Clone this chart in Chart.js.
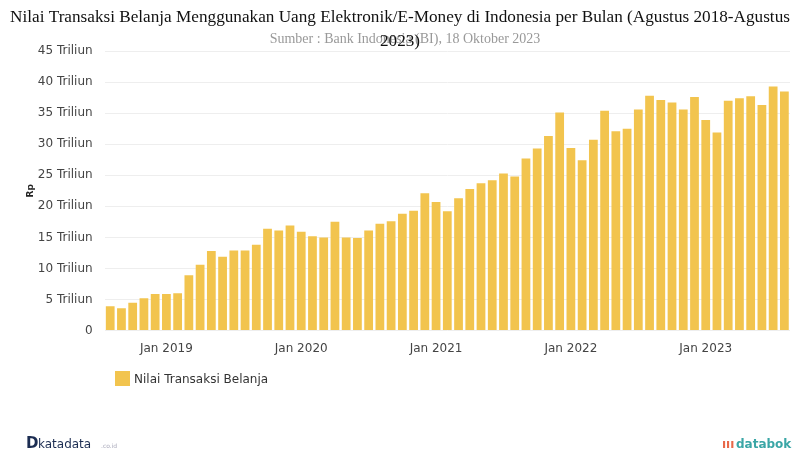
<!DOCTYPE html>
<html>
<head>
<meta charset="utf-8">
<script src="https://cdn.jsdelivr.net/npm/chart.js@4"></script>
<style>
  html, body { margin: 0; padding: 0; background: #fff; }
  #wrap { width: 792px; height: 450px; }
</style>
</head>
<body>
<div id="wrap"><canvas id="chart" width="792" height="450"></canvas></div>
<script>
// Agustus 2018 - Agustus 2023, nilai dalam triliun rupiah
const months = [
  "2018-08", "2018-09", "2018-10", "2018-11", "2018-12",
  "2019-01", "2019-02", "2019-03", "2019-04", "2019-05", "2019-06",
  "2019-07", "2019-08", "2019-09", "2019-10", "2019-11", "2019-12",
  "2020-01", "2020-02", "2020-03", "2020-04", "2020-05", "2020-06",
  "2020-07", "2020-08", "2020-09", "2020-10", "2020-11", "2020-12",
  "2021-01", "2021-02", "2021-03", "2021-04", "2021-05", "2021-06",
  "2021-07", "2021-08", "2021-09", "2021-10", "2021-11", "2021-12",
  "2022-01", "2022-02", "2022-03", "2022-04", "2022-05", "2022-06",
  "2022-07", "2022-08", "2022-09", "2022-10", "2022-11", "2022-12",
  "2023-01", "2023-02", "2023-03", "2023-04", "2023-05", "2023-06",
  "2023-07", "2023-08"
];
const nilaiBelanja = [
  3.9, 3.6, 4.5, 5.2, 5.9,
  5.9, 6.0, 8.9, 10.6, 12.8, 11.9,
  12.9, 12.9, 13.8, 16.4, 16.1, 16.9,
  15.9, 15.2, 15.0, 17.5, 15.0, 14.9,
  16.1, 17.2, 17.6, 18.8, 19.3, 22.1,
  20.7, 19.2, 21.3, 22.8, 23.7, 24.2,
  25.3, 24.8, 27.7, 29.3, 31.3, 35.1,
  29.4, 27.4, 30.7, 35.4, 32.1, 32.5,
  35.6, 37.8, 37.1, 36.7, 35.6, 37.6,
  33.9, 31.9, 37.0, 37.4, 37.7, 36.3,
  39.3, 38.5
];
const yTicks = [0, 5, 10, 15, 20, 25, 30, 35, 40, 45];

const titleText = "Nilai Transaksi Belanja Menggunakan Uang Elektronik/E-Money di Indonesia per Bulan (Agustus 2018-Agustus";
const titleText2 = "2023)";
const subtitleText = "Sumber : Bank Indonesia (BI), 18 Oktober 2023";
const legendText = "Nilai Transaksi Belanja";
const barColor = "#f2c44e";

// judul, legenda dan logo digambar sendiri supaya posisinya sama
const decor = {
  id: "decor",
  afterDraw(chart) {
    const ctx = chart.ctx;
    ctx.save();
    ctx.textBaseline = "alphabetic";
    ctx.textAlign = "center";
    ctx.fillStyle = "#999";
    ctx.font = "14px 'Liberation Serif'";
    ctx.fillText(subtitleText, 405, 43);
    ctx.fillStyle = "#111";
    ctx.font = "17.2px 'Liberation Serif'";
    ctx.fillText(titleText, 400, 22);
    ctx.fillText(titleText2, 400, 46);

    // legenda
    ctx.fillStyle = barColor;
    ctx.fillRect(115, 371, 15, 15);
    ctx.textAlign = "left";
    ctx.fillStyle = "#333";
    ctx.font = "12px 'DejaVu Sans'";
    ctx.fillText(legendText, 134, 383);

    // logo
    ctx.fillStyle = "#1c2d52";
    ctx.font = "bold 15px 'DejaVu Sans'";
    ctx.fillText("D", 26, 448);
    ctx.font = "12px 'DejaVu Sans'";
    ctx.fillText("katadata", 38, 448);
    ctx.fillStyle = "#aab";
    ctx.font = "6px 'DejaVu Sans'";
    ctx.fillText(".co.id", 101, 448);
    ctx.fillStyle = "#e8694a";
    ctx.font = "bold 12px 'DejaVu Sans'";
    ctx.fillText("\u0131\u0131\u0131", 722, 448);
    ctx.fillStyle = "#3aa6a6";
    ctx.font = "bold 12px 'DejaVu Sans'";
    ctx.fillText("databoks", 736, 448);
    ctx.restore();
  }
};

const ctx = document.getElementById("chart").getContext("2d");
new Chart(ctx, {
  type: "bar",
  data: {
    labels: months,
    datasets: [
      {
        label: legendText,
        data: nilaiBelanja,
        backgroundColor: barColor,
        borderWidth: 0,
        categoryPercentage: 1,
        barPercentage: 0.78
      }
    ]
  },
  options: {
    responsive: false,
    animation: false,
    layout: { padding: { top: 51, bottom: 91, left: 25, right: 2 } },
    plugins: {
      legend: { display: false },
      title: { display: false },
      tooltip: { enabled: false }
    },
    scales: {
      x: {
        grid: { display: false },
        border: { display: false },
        ticks: {
          autoSkip: false,
          maxRotation: 0,
          padding: 3,
          color: "#444",
          font: { family: "DejaVu Sans", size: 12 },
          callback: function (value, index) {
            const m = months[index];
            return m.endsWith("-01") ? "Jan " + m.slice(0, 4) : "";
          }
        }
      },
      y: {
        min: 0,
        max: 45,
        afterBuildTicks: (axis) => { axis.ticks = yTicks.map((v) => ({ value: v })); },
        grid: { color: "#eeeeee", drawTicks: false },
        border: { display: false },
        title: {
          display: true,
          text: "Rp",
          color: "#222",
          font: { family: "DejaVu Sans", size: 9, weight: "bold" },
          padding: { top: 0, bottom: -10 }
        },
        ticks: {
          padding: 12,
          color: "#444",
          font: { family: "DejaVu Sans", size: 12 },
          callback: (v) => (v === 0 ? "0" : v + " Triliun")
        }
      }
    }
  },
  plugins: [decor]
});
</script>
</body>
</html>
